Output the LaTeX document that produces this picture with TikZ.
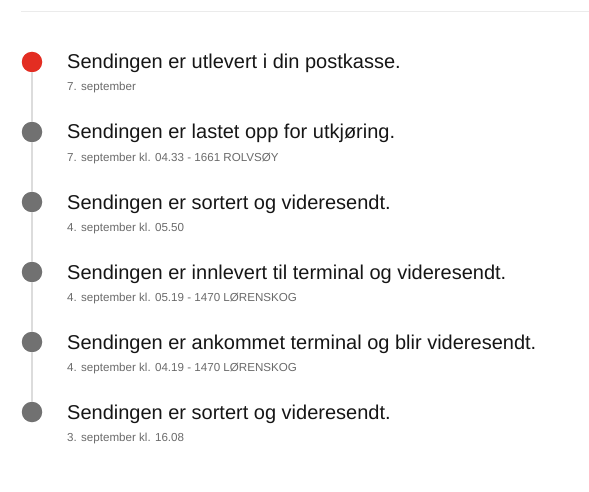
\documentclass[tikz,border=0pt]{standalone}
\usepackage{fontspec}
\setmainfont{Liberation Sans}
\usetikzlibrary{positioning}

\definecolor{postred}{HTML}{E32D22}
\definecolor{dotgray}{HTML}{717171}
\definecolor{linegray}{HTML}{DCDCDC}
\definecolor{rulegray}{HTML}{EBEBEB}
\definecolor{titlecol}{HTML}{161616}
\definecolor{subcol}{HTML}{6A6A6A}

\begin{document}
\begin{tikzpicture}[x=1pt, y=-1pt,
  dot/.style={circle, fill=dotgray, minimum size=20.5pt, inner sep=0pt},
  lastdot/.style={dot, fill=postred},
  title/.style={anchor=base west, inner sep=0pt, text=titlecol, font=\fontsize{20}{24}\selectfont},
  sub/.style={anchor=base west, inner sep=0pt, text=subcol, font=\fontsize{11.6}{13}\selectfont},
  timeline/.style={draw=linegray, line width=2pt}]
\useasboundingbox (0,0) rectangle (589,492);
% top rule
\coordinate (ruleL) at (21,12);
\coordinate (ruleR) at (589,12);
\draw [rulegray, line width=1pt] (ruleL) -- (ruleR);

% events
\node [lastdot] (d1) at (32,62) {};
\node [title] (t1) at (67,69) {Sendingen er utlevert i din postkasse.};
\node [sub]   (s1) at (67,91) {7. september};

\node [dot] (d2) at (32,132) {};
\node [title] (t2) at (67,139) {Sendingen er lastet opp for utkjøring.};
\node [sub]   (s2) at (67,161) {7. september kl. 04.33 - 1661 ROLVSØY};

\node [dot] (d3) at (32,202) {};
\node [title] (t3) at (67,209) {Sendingen er sortert og videresendt.};
\node [sub]   (s3) at (67,231) {4. september kl. 05.50};

\node [dot] (d4) at (32,272) {};
\node [title] (t4) at (67,279) {Sendingen er innlevert til terminal og videresendt.};
\node [sub]   (s4) at (67,301) {4. september kl. 05.19 - 1470 LØRENSKOG};

\node [dot] (d5) at (32,342) {};
\node [title] (t5) at (67,349) {Sendingen er ankommet terminal og blir videresendt.};
\node [sub]   (s5) at (67,371) {4. september kl. 04.19 - 1470 LØRENSKOG};

\node [dot] (d6) at (32,412) {};
\node [title] (t6) at (67,419) {Sendingen er sortert og videresendt.};
\node [sub]   (s6) at (67,441) {3. september kl. 16.08};

% timeline between the dots
\draw [timeline] (d1) -- (d2);
\draw [timeline] (d2) -- (d3);
\draw [timeline] (d3) -- (d4);
\draw [timeline] (d4) -- (d5);
\draw [timeline] (d5) -- (d6);
\end{tikzpicture}
\end{document}
